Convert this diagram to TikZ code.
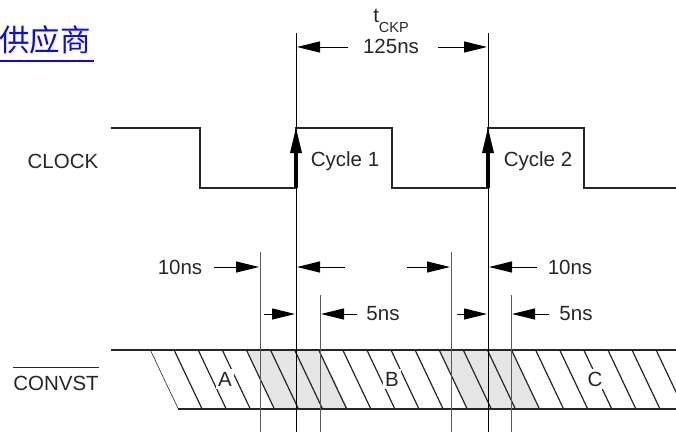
\documentclass[tikz,border=0pt]{standalone}
\usepackage{fontspec}
\setmainfont{Liberation Sans}
\newfontfamily\cjk{Noto Sans CJK SC}
\usetikzlibrary{arrows.meta}
\definecolor{linkblue}{RGB}{10,10,240}
\definecolor{shadegray}{RGB}{229,229,229}
\begin{document}
\begin{tikzpicture}[x=1pt,y=-1pt,
  wave/.style={line width=2.3pt, black!85, line join=miter},
  guide/.style={line width=0.9pt, black},
  guideg/.style={line width=0.9pt, black!65},
  dim/.style={line width=1pt, -{Triangle[length=23pt,width=11pt]}},
  lbl/.style={font=\fontsize{20.5}{23}\selectfont, inner sep=0pt, text=black!85},
  hatchline/.style={line width=1.2pt, black!85}]
\useasboundingbox (0,0) rectangle (676,434);

% vendor link
\node[font=\cjk\fontsize{30.5}{32}\selectfont, text=linkblue, anchor=west, inner sep=0pt] (vendor) at (-1,40) {供应商};
\draw[linkblue, line width=1.6pt] (0,61) -- (94,61);

% labels
\node[lbl] (clk) at (63,161) {CLOCK};
\node[lbl] (conv) at (56,383) {CONVST};
\draw[line width=0.9pt, black!85] ([yshift=8pt]conv.north west) -- ([yshift=8pt]conv.north east);
\node[lbl] (cyc1) at (345,161) {Cycle 1};
\node[lbl] (cyc2) at (538,161) {Cycle 2};

% bus shading
\fill[shadegray] (247,350) -- (320,350) -- (348,409) -- (275,409) -- cycle;
\fill[shadegray] (439,350) -- (511,350) -- (539,409) -- (467,409) -- cycle;
\begin{scope}
  \clip (150,350) -- (676,350) -- (676,409) -- (178,409) -- cycle;
  \foreach \k in {0,...,22} \draw[hatchline] ({150+24.1*\k},350) -- ({178+24.1*\k},409);
\end{scope}
\node[lbl, fill=white, inner sep=2.5pt] (A) at (225,379) {A};
\node[lbl, fill=white, inner sep=2.5pt] (B) at (392,379) {B};
\node[lbl, fill=white, inner sep=2.5pt] (C) at (595,379) {C};
\draw[wave] (111,350) -- (676,350);
\draw[wave] (178,409) -- (676,409);

% clock
\draw[wave] (111,128) -- (200,128) -- (200,188) -- (296,188) -- (296,128) -- (392,128)
  -- (392,188) -- (488,188) -- (488,128) -- (584,128) -- (584,188) -- (676,188);

% guide lines
\coordinate (g1t) at (296,33);  \coordinate (g1b) at (296,432);
\coordinate (g2t) at (488,33);  \coordinate (g2b) at (488,432);
\coordinate (g3t) at (260,252); \coordinate (g3b) at (260,432);
\coordinate (g4t) at (320,295); \coordinate (g4b) at (320,432);
\coordinate (g5t) at (451,252); \coordinate (g5b) at (451,432);
\coordinate (g6t) at (511,295); \coordinate (g6b) at (511,432);
\draw[guide] (g1t) -- (g1b);
\draw[guide] (g2t) -- (g2b);
\draw[guideg] (g3t) -- (g3b);
\draw[guideg] (g4t) -- (g4b);
\draw[guideg] (g5t) -- (g5b);
\draw[guideg] (g6t) -- (g6b);

% clock edge arrows
\foreach \x in {296,488} {
  \draw[line width=4.2pt, black] (\x,188) -- (\x,152);
  \fill[black] (\x-6,153) -- (\x+6,153) -- (\x,128) -- cycle;
}

% t_CKP
\node[lbl, anchor=base] (tckp) at (391,22) {t{\fontsize{14.5}{14.5}\selectfont\raisebox{-10pt}{CKP}}};
\node[lbl] (p125) at (391,46) {125ns};
\draw[dim] (348,47) -- (297,47);
\draw[dim] (438,47) -- (487,47);

% 10ns row
\node[lbl] (t10a) at (180,267) {10ns};
\draw[dim] (214,267) -- (259,267);
\draw[dim] (345,267) -- (297,267);
\draw[dim] (407,267) -- (450,267);
\draw[dim] (537,267) -- (489,267);
\node[lbl] (t10b) at (570,267) {10ns};

% 5ns row
\draw[dim] (264,314) -- (295,314);
\draw[dim] (357,314) -- (321,314);
\node[lbl] (t5a) at (383,314) {5ns};
\draw[dim] (457,314) -- (487,314);
\draw[dim] (549,314) -- (512,314);
\node[lbl] (t5b) at (576,314) {5ns};
\end{tikzpicture}
\end{document}
